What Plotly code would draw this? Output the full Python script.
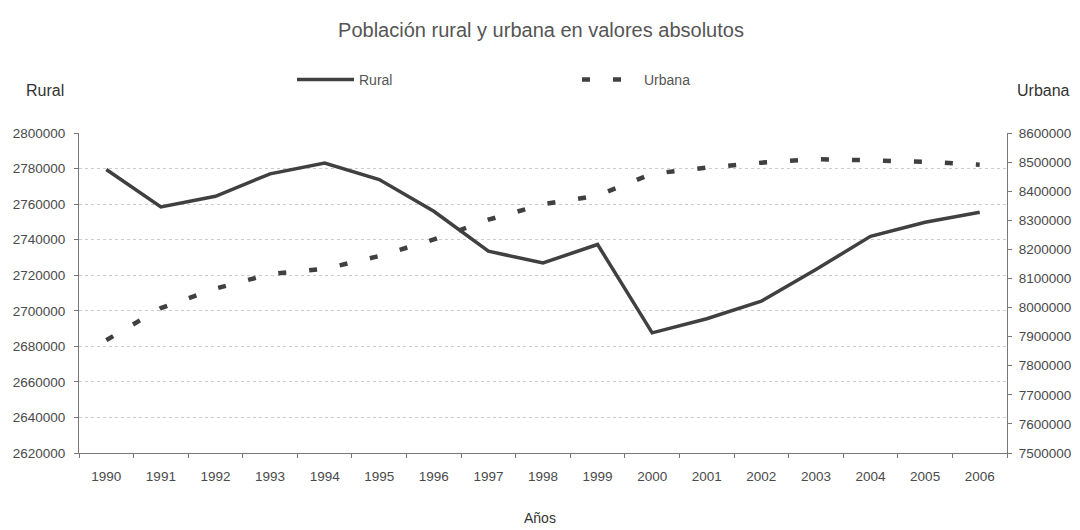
import plotly.graph_objects as go

years = [str(y) for y in range(1990, 2007)]
rural = [2779500, 2758400, 2764400, 2777000, 2783100, 2773800, 2756000, 2733500,
         2726900, 2737300, 2687600, 2695500, 2705400, 2723200, 2741900, 2749800, 2755400]
urbana = [7888000, 7998000, 8065000, 8115000, 8133000, 8177000, 8234000, 8302000,
          8355000, 8385000, 8460000, 8481000, 8498000, 8510000, 8506000, 8501000, 8491000]

left_ticks = list(range(2620000, 2800001, 20000))
right_ticks = list(range(7500000, 8600001, 100000))

font = "Liberation Sans, Arial, sans-serif"
tick_font = dict(family=font, size=13.5, color="#4a4a4a")

# page body adds an 8px offset, so the figure is 8px smaller than the window
W, H = 1072, 522

fig = go.Figure()
fig.add_trace(go.Scatter(x=years, y=rural, name="Rural", mode="lines",
                         line=dict(color="#404040", width=3.5)))
fig.add_trace(go.Scatter(x=years, y=urbana, name="Urbana", mode="lines", yaxis="y2",
                         line=dict(color="#404040", width=4.5, dash="8px,23px")))

fig.update_layout(
    width=W, height=H,
    margin=dict(l=71, r=73, t=125, b=77, autoexpand=False),
    paper_bgcolor="white", plot_bgcolor="white",
    title=dict(text="Población rural y urbana en valores absolutos",
               font=dict(family=font, size=20, color="#555555"),
               x=533 / W, xanchor="center", y=1 - 22 / H, yanchor="middle"),
    showlegend=True,
    legend=dict(orientation="h", x=(292 - 79) / 928, xanchor="left",
                y=1 + 53 / 320, yanchor="middle",
                entrywidth=213, entrywidthmode="pixels", itemwidth=57,
                font=dict(family=font, size=14, color="#555555"),
                bgcolor="rgba(0,0,0,0)", tracegroupgap=0),
    xaxis=dict(type="category", range=[-0.5, len(years) - 0.5],
               showgrid=False, showline=True, linecolor="#777777",
               linewidth=1, ticks="outside", tickson="boundaries", ticklen=4,
               tickcolor="#777777", tickfont=tick_font, ticklabelstandoff=11),
    yaxis=dict(range=[2620000, 2800000], tickvals=left_ticks,
               ticktext=[str(v) for v in left_ticks],
               showgrid=True, gridcolor="#cccccc", griddash="dot", gridwidth=1,
               showline=True, linecolor="#777777", linewidth=1,
               ticks="outside", ticklen=4, tickcolor="#777777",
               tickfont=tick_font, zeroline=False, ticklabelstandoff=6),
    yaxis2=dict(range=[7500000, 8600000], tickvals=right_ticks,
                ticktext=[str(v) for v in right_ticks],
                overlaying="y", side="right", showgrid=False,
                showline=True, linecolor="#777777", linewidth=1,
                ticks="outside", ticklen=4, tickcolor="#777777",
                tickfont=tick_font, zeroline=False, ticklabelstandoff=4),
    annotations=[
        dict(text="Rural", xref="paper", yref="paper", x=(45 - 79) / 928, y=1 + 42 / 320,
             xanchor="center", yanchor="middle", showarrow=False,
             font=dict(family=font, size=16, color="#333333")),
        dict(text="Urbana", xref="paper", yref="paper", x=(1043 - 79) / 928, y=1 + 42 / 320,
             xanchor="center", yanchor="middle", showarrow=False,
             font=dict(family=font, size=16, color="#333333")),
        dict(text="Años", xref="paper", yref="paper", x=(540 - 79) / 928, y=-(518 - 453) / 320,
             xanchor="center", yanchor="middle", showarrow=False,
             font=dict(family=font, size=14, color="#333333")),
    ],
)

fig.write_html("out.html")
